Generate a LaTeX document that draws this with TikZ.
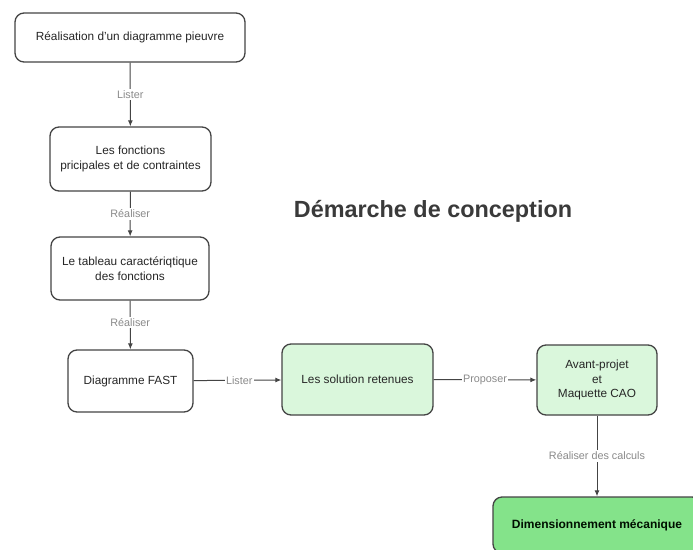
\documentclass[tikz,border=0pt]{standalone}
\usepackage{fontspec}
\setmainfont{Liberation Sans}
\usetikzlibrary{arrows.meta}
\definecolor{boxline}{HTML}{444444}
\definecolor{lightgreen}{HTML}{DAF7DC}
\definecolor{midgreen}{HTML}{84E38A}
\definecolor{labelgray}{HTML}{8A8A8A}
\definecolor{titlegray}{HTML}{3A3A3A}
\tikzset{
  stepbox/.style={draw=boxline, line width=1.3pt, rounded corners=9pt, fill=white, align=center,
    font=\fontsize{11.8}{14.5}\selectfont, text=black!85, inner sep=0pt},
  conn/.style={draw=boxline, line width=1pt, -{Latex[length=6pt,width=5pt]}},
  lbl/.style={fill=white, text=labelgray, font=\fontsize{10.8}{12}\selectfont, inner sep=1.5pt}
}
\begin{document}
\begin{tikzpicture}[x=1pt,y=-1pt]
\useasboundingbox (0,0) rectangle (693,549);
\fill[white] (0,0) rectangle (693,549);
\begin{scope}
\clip (0,0) rectangle (693,549);
\node[stepbox, minimum width=230pt, minimum height=49pt] (b1) at (130,37.5) {Réalisation d'un diagramme pieuvre};
\node[stepbox, minimum width=161pt, minimum height=64pt] (b2) at (130.5,159) {Les fonctions\\pricipales et de contraintes};
\node[stepbox, minimum width=158pt, minimum height=63pt] (b3) at (130,268.5) {Le tableau caractériqtique\\des fonctions};
\node[stepbox, minimum width=125pt, minimum height=62pt] (b4) at (130.5,381) {Diagramme FAST};
\node[stepbox, fill=lightgreen, minimum width=151pt, minimum height=71pt] (b5) at (357.5,379.5) {Les solution retenues};
\node[stepbox, fill=lightgreen, minimum width=120pt, minimum height=70pt] (b6) at (597,380) {Avant-projet\\et\\Maquette CAO};
\node[stepbox, fill=midgreen, minimum width=208pt, minimum height=56pt, font=\fontsize{12}{14.5}\selectfont\bfseries, text={black!85!green!40!black}] (b7) at (597,525) {Dimensionnement mécanique};

\draw[conn] (b1) -- node[lbl] {Lister} (b2);
\draw[conn] (b2) -- node[lbl] {Réaliser} (b3);
\draw[conn] (b3) -- node[lbl, pos=0.45] {Réaliser} (b4);
\draw[conn] (b4) -- node[lbl, pos=0.52] {Lister} (b5);
\draw[conn] (b5) -- node[lbl, pos=0.5] {Proposer} (b6);
\draw[conn] (b6) -- node[lbl, pos=0.5] {Réaliser des calculs} (b7);

\node[font=\fontsize{23.4}{27}\selectfont\bfseries, text=titlegray] (title) at (433,211) {Démarche de conception};
\end{scope}
\end{tikzpicture}
\end{document}
